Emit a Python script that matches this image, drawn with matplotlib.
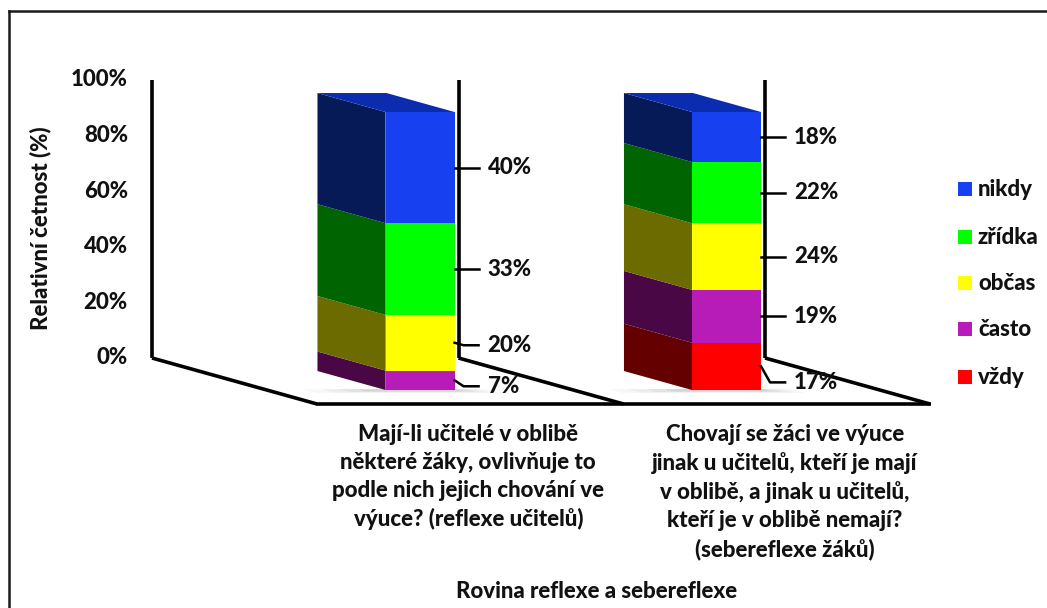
import matplotlib
matplotlib.use("Agg")
import matplotlib.pyplot as plt
from matplotlib.patches import Polygon, Rectangle
from matplotlib.lines import Line2D

# ---- data -------------------------------------------------------------
categories = [
    "Mají-li učitelé v oblibě\nněkteré žáky, ovlivňuje to\npodle nich jejich chování ve\nvýuce? (reflexe učitelů)",
    "Chovají se žáci ve výuce\njinak u učitelů, kteří je mají\nv oblibě, a jinak u učitelů,\nkteří je v oblibě nemají?\n(sebereflexe žáků)",
]
series = ["vždy", "často", "občas", "zřídka", "nikdy"]
vzdy = [0, 17]
casto = [7, 19]
obcas = [20, 24]
zridka = [33, 22]
nikdy = [40, 18]
y_ticks = [0, 20, 40, 60, 80, 100]
y_title = "Relativní četnost (%)"
x_title = "Rovina reflexe a sebereflexe"

stack = [vzdy, casto, obcas, zridka, nikdy]
front_colors = ["#ff0000", "#b81cb8", "#ffff00", "#00ff00", "#1740f0"]
side_colors = ["#640000", "#4a0745", "#6b6b00", "#006400", "#071a58"]
top_color = "#0c2cb0"

# ---- 3D-ish projection of (category position, value %, depth 0..1) ----
W, H = 1047, 608
WALL_X = 152.0          # screen x of the left wall
BASE_Y = 358.0          # screen y of 0 % on the back plane
PX_PER_PCT = 2.78
CAT_W = 306.5           # width of one category slot
DEPTH_DX, DEPTH_DY = 165.0, 46.0
BAR_FRAC = 0.225        # bar width as share of the slot
D0, D1 = 0.283, 0.696   # bar depth range


def proj(c, v, d):
    """c: category coordinate (0..n), v: percent, d: depth (0 back, 1 front)."""
    x = WALL_X + c * CAT_W + d * DEPTH_DX
    y = BASE_Y - v * PX_PER_PCT + d * DEPTH_DY
    return x, y


fig = plt.figure(figsize=(W / 100, H / 100), dpi=100)
ax = fig.add_axes([0, 0, 1, 1])
ax.set_xlim(0, W)
ax.set_ylim(H, 0)
ax.axis("off")

FONT = ["Lato", "DejaVu Sans"]
plt.rcParams["font.family"] = FONT
FS = 16.0
TXT = dict(fontsize=FS, fontweight=900, color="#111111")

n = len(categories)

# soft floor shadows under the bars
for i in range(n):
    cl = i + 0.5 - BAR_FRAC / 2
    cr = i + 0.5 + BAR_FRAC / 2
    for k, a in enumerate([0.06, 0.08, 0.10, 0.12]):
        grow = 0.06 * (3 - k)
        pts = [proj(cl - 0.08 - grow, 0, D1 - 0.02),
               proj(cr + 0.02 + grow * 0.5, 0, D1 - 0.02),
               proj(cr + 0.02 + grow * 0.5, 0, D1 + 0.03 + grow * 0.2),
               proj(cl - 0.08 - grow, 0, D1 + 0.03 + grow * 0.2)]
        ax.add_patch(Polygon(pts, closed=True, facecolor="#808080", alpha=a,
                             edgecolor="none", zorder=1))

# bars
for i in range(n):
    cl = i + 0.5 - BAR_FRAC / 2
    cr = i + 0.5 + BAR_FRAC / 2
    bottom = 0.0
    segs = []
    for s, vals in enumerate(stack):
        v = vals[i]
        top = bottom + v
        segs.append((s, bottom, top))
        bottom = top
    total = bottom
    for s, b, t in segs:
        if t - b <= 0:
            continue
        side = [proj(cl, b, D0), proj(cl, t, D0), proj(cl, t, D1), proj(cl, b, D1)]
        ax.add_patch(Polygon(side, closed=True, facecolor=side_colors[s],
                             edgecolor="none", zorder=2))
        front = [proj(cl, b, D1), proj(cr, b, D1), proj(cr, t, D1), proj(cl, t, D1)]
        ax.add_patch(Polygon(front, closed=True, facecolor=front_colors[s],
                             edgecolor="none", zorder=2))
    topf = [proj(cl, total, D0), proj(cr, total, D0), proj(cr, total, D1), proj(cl, total, D1)]
    ax.add_patch(Polygon(topf, closed=True, facecolor=top_color,
                         edgecolor="none", zorder=2))

# walls / floor edges
LW = 2.6
ln_kw = dict(color="black", lw=LW, solid_capstyle="butt", zorder=3)
x0, y0 = proj(0, 0, 0)
x1, y1 = proj(0, 100, 0)
ax.add_line(Line2D([x0, x1], [y0, y1], **ln_kw))
for c in range(n + 1):
    xa, ya = proj(c, 0, 0)
    xb, yb = proj(c, 0, 1)
    ax.add_line(Line2D([xa, xb], [ya, yb], **ln_kw))
    if c > 0:
        xt, yt = proj(c, 100, 0)
        ax.add_line(Line2D([xa, xt], [ya, yt], **ln_kw))
xa, ya = proj(0, 0, 1)
xb, yb = proj(n, 0, 1)
ax.add_line(Line2D([xa - 1, xb + 1], [ya, yb], **ln_kw))

# y tick labels
for t in y_ticks:
    x, y = proj(0, t, 0)
    ax.text(x - 24, y, f"{t}%", ha="right", va="center", **TXT)

ax.text(40, 228, y_title, rotation=90, ha="center", va="center", **TXT)

# value labels with leader lines
label_dy = [[0, 6, 2.5, 0, 0], [16, 0, 0, 0, 0]]
for i in range(n):
    cr = i + 0.5 + BAR_FRAC / 2
    bottom = 0.0
    for s, vals in enumerate(stack):
        v = vals[i]
        if v > 0:
            mx, my = proj(cr, bottom + v / 2, D1)
            ly = my + label_dy[i][s]
            if abs(ly - my) > 1:
                xs = [mx, mx + 9, mx + 24]
                ys = [my, ly, ly]
            else:
                xs = [mx, mx + 24]
                ys = [my, my]
            ax.add_line(Line2D(xs, ys, color="black", lw=1.8, zorder=3))
            ax.text(mx + 33, ly, f"{v}%", ha="left", va="center", **TXT)
        bottom += v

# category labels
for i, lab in enumerate(categories):
    x, y = proj(i + 0.5, 0, 1)
    ax.text(x + (-2 if i == 0 else 8), 424, lab, ha="center", va="top",
            linespacing=1.4, **TXT)

ax.text(597, 591, x_title, ha="center", va="center", **TXT)

# legend
leg_y = [377, 329, 283, 237, 189]
for s in range(len(series) - 1, -1, -1):
    y = leg_y[s]
    ax.add_patch(Rectangle((958, y - 7), 14, 14, facecolor=front_colors[s],
                           edgecolor="none", zorder=3))
    ax.text(978, y, series[s], ha="left", va="center", **TXT)

# chart frame
ax.add_line(Line2D([9, 9], [11, H + 2], color="#1a1a1a", lw=1.8))
ax.add_line(Line2D([9, W + 2], [11, 11], color="#1a1a1a", lw=1.8))

fig.savefig("out.png", dpi=100)
